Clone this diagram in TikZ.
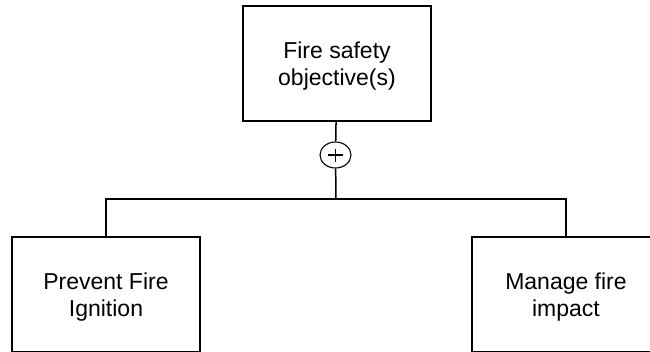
\documentclass[tikz,border=0pt]{standalone}
\usepackage{fontspec}
\setmainfont{Liberation Sans}
\usetikzlibrary{positioning}
\usetikzlibrary{calc}
\usetikzlibrary{shapes.geometric}
\tikzstyle{goalbox}=[rectangle,draw=black,fill=white,line width=1.8pt,minimum width=188pt,minimum height=115pt,inner sep=0pt,align=center,text depth=0pt,font=\fontsize{23}{27}\selectfont]
\tikzstyle{orgate}=[ellipse,draw=black,fill=white,line width=1.1pt,minimum width=31pt,minimum height=26pt,inner sep=0pt,
  path picture={\draw[line width=1.1pt] ($(path picture bounding box.center)+(-7.5pt,0)$) -- ($(path picture bounding box.center)+(7.5pt,0)$);
                \draw[line width=1.1pt] ($(path picture bounding box.center)+(0,-6.5pt)$) -- ($(path picture bounding box.center)+(0,6.5pt)$);}]
\tikzstyle{link}=[line width=1.5pt]

\begin{document}
\begin{tikzpicture}[x=1pt,y=-1pt]
\clip (0,0) rectangle (650,351);

%objective
\node[goalbox] (objective) at (337,63.5) {Fire safety\\objective(s)};
\node[orgate] (plus) at (335.5,155) {};
\coordinate (split) at (336,199);

%sub goals
\foreach \pos/\name/\label in {{(106,294.5)/ignition/{Prevent Fire\\Ignition}}, {(566,294.5)/impact/{Manage fire\\impact}}}
    \node[goalbox] (\name) at \pos {\label};

\draw[link] (objective) -- (plus);
\draw[link] (plus) -- (split);
\foreach \dest in {ignition, impact}
    \draw[link] (split) -| (\dest);

\end{tikzpicture}
\end{document}
